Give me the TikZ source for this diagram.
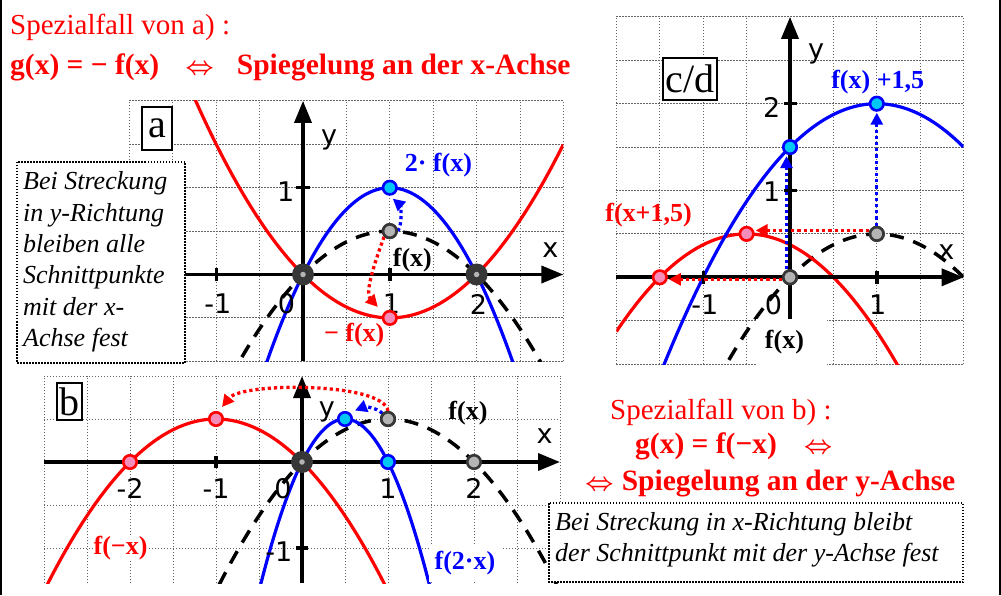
\documentclass[tikz,border=0pt]{standalone}
\usepackage{fontspec}
\setmainfont{Liberation Serif}
\newfontfamily\axfont{DejaVu Sans}
\usetikzlibrary{arrows.meta}
\definecolor{ptcyan}{RGB}{0,200,245}
\definecolor{ptpink}{RGB}{245,140,185}
\definecolor{ptgray}{RGB}{180,180,180}
\definecolor{ptdark}{RGB}{55,55,55}
\definecolor{grdc}{RGB}{100,100,100}
\tikzset{
 grd/.style={draw=grdc, line width=0.9pt, dash pattern=on 1.2pt off 1.8pt},
 axarr/.style={line width=3.6pt, -{Triangle[length=22pt,width=17pt]}},
 tck/.style={line width=3.4pt},
 crv/.style={line width=3.2pt},
 dsh/.style={line width=3.5pt, dash pattern=on 14pt off 10pt},
 dotarr/.style={line width=3.3pt, dash pattern=on 3.2pt off 3pt, -{Triangle[length=12pt,width=12pt]}},
 gpt/.style={circle, draw=ptdark, fill=ptgray, line width=2.6pt, minimum size=13.5pt, inner sep=0pt},
 cpt/.style={circle, draw=blue, fill=ptcyan, line width=2.6pt, minimum size=13.5pt, inner sep=0pt},
 rpt/.style={circle, draw=red, fill=ptpink, line width=2.6pt, minimum size=13.5pt, inner sep=0pt},
 dpt/.style={circle, fill=ptdark, minimum size=22pt, inner sep=0pt},
 cdot/.style={circle, fill=ptgray, minimum size=5.5pt, inner sep=0pt},
 axl/.style={font=\axfont\fontsize{27}{32}\selectfont, inner sep=0pt},
 lbl/.style={font=\bfseries\fontsize{26}{31}\selectfont, inner sep=1pt},
 hd/.style={font=\fontsize{29}{34}\selectfont, text=red, inner sep=0pt},
 hdb/.style={font=\bfseries\boldmath\fontsize{29.5}{34}\selectfont, text=red, inner sep=0pt},
 itx/.style={font=\itshape\fontsize{26}{31}\selectfont, inner sep=0pt},
 tbox/.style={draw, fill=white, line width=1.5pt, dash pattern=on 1.5pt off 1.5pt},
 pbox/.style={draw, fill=white, line width=1.1pt, inner sep=0pt, font=\fontsize{40}{40}\selectfont},
}
\begin{document}
\begin{tikzpicture}[x=1pt,y=1pt]
\useasboundingbox (0,0) rectangle (1001,595);
\fill[white] (0,0) rectangle (1001,595);

%%%%%%%%%%%%%%%% panel a
\begin{scope}[shift={(303pt,320.5pt)}, x=86.8pt, y=86.8pt]
 \draw[grd] (-2,-1) grid[step=0.5] (3,2);
 \begin{scope}
  \clip (-2,-1) rectangle (3,2);
  \draw[dsh, domain=-2:3, samples=120] plot (\x,{\x-\x*\x/2});
  \draw[crv, red, domain=-2:3, samples=120] plot (\x,{\x*\x/2-\x});
  \draw[crv, blue, domain=-2:3, samples=120] plot (\x,{2*\x-\x*\x});
 \end{scope}
 \draw[axarr] (-2,0) -- (3,0);
 \draw[axarr] (0,-1) -- (0,2);
 \foreach \t in {-1,1,2} \draw[tck] (\t,-0.075) -- (\t,0.075);
 \draw[tck] (-0.075,1) -- (0.075,1);
 \node[axl] (am1) at (-0.98,-0.34) {-1};
 \node[axl] (a0) at (-0.19,-0.34) {0};
 \node[axl] (a1) at (1.02,-0.34) {1};
 \node[axl] (a2) at (2.02,-0.34) {2};
 \node[axl] (ay1) at (-0.20,0.95) {1};
 \node[axl] (ax) at (2.85,0.28) {x};
 \node[axl] (ay) at (0.30,1.55) {y};
 \node[gpt] (ga) at (1,0.5) {};
 \node[cpt] (ca) at (1,1) {};
 \node[rpt] (ra) at (1,-0.5) {};
 \draw[dotarr, blue] (ga.east) .. controls (1.15,0.58) and (1.12,0.8) .. ([shift={(3pt,-11pt)}]ca.center);
 \draw[dotarr, red] (ga.south west) .. controls (0.83,0.15) and (0.71,-0.21) .. ([shift={(-12pt,11pt)}]ra.center);
 \node[gpt] at (ga) {};
 \node[dpt] (da0) at (0,0) {};
 \node[cdot] (da0c) at (0,0) {};
 \node[dpt] (da2) at (2,0) {};
 \node[cdot] (da2c) at (2,0) {};
 \node[lbl, text=blue] (la1) at (1.56,1.26) {2· f(x)};
 \node[lbl] (la2) at (1.26,0.17) {f(x)};
 \node[lbl, text=red] (la3) at (0.59,-0.70) {− f(x)};
\end{scope}
\node[pbox, minimum width=30pt, minimum height=43pt] (boxa) at (157,466.5) {a};
\draw[tbox] (17,433) rectangle (185,232);
\foreach \t [count=\i] in {Bei Streckung, in y-Richtung, bleiben alle, Schnittpunkte, mit der x-, Achse fest}
  \node[itx, anchor=base west] (ta\i) at (23,{405-(\i-1)*31.3}) {\t};

%%%%%%%%%%%%%%%% panel b
\begin{scope}[shift={(302pt,133pt)}, x=86pt, y=86pt]
 \draw[grd] (-3,-1.41) grid[step=0.5] (3,1);
 \begin{scope}
  \clip (-3,-1.41) rectangle (3,1);
  \draw[dsh, domain=-3:3, samples=120] plot (\x,{\x-\x*\x/2});
  \draw[crv, red, domain=-3:3, samples=120] plot (\x,{-\x*\x/2-\x});
  \draw[crv, blue, domain=-1:2, samples=120] plot (\x,{2*\x-2*\x*\x});
 \end{scope}
 \draw[axarr] (-3,0) -- (3,0);
 \draw[axarr] (0,-1.41) -- (0,1);
 \foreach \t in {-2,-1,1,2} \draw[tck] (\t,-0.075) -- (\t,0.075);
 \draw[tck] (-0.075,-1) -- (0.075,-1);
 \node[axl] (bm2) at (-2.0,-0.31) {-2};
 \node[axl] (bm1) at (-1.0,-0.31) {-1};
 \node[axl] (b0) at (-0.22,-0.31) {0};
 \node[axl] (b1) at (1.0,-0.31) {1};
 \node[axl] (b2) at (2.0,-0.31) {2};
 \node[axl] (bym1) at (-0.27,-1.04) {-1};
 \node[axl] (bx) at (2.82,0.30) {x};
 \node[axl] (by) at (0.29,0.58) {y};
 \node[gpt] (gb1) at (1,0.5) {};
 \node[gpt] (gb2) at (2,0) {};
 \node[rpt] (rb0) at (-2,0) {};
 \node[rpt] (rb1) at (-1,0.5) {};
 \node[cpt] (cb1) at (0.5,0.5) {};
 \node[cpt] (cb0) at (1,0) {};
 \draw[dotarr, red] (gb1.north) .. controls (0.95,0.93) and (-0.7,0.93) .. ([shift={(6pt,12pt)}]rb1.center);
 \draw[dotarr, blue] (gb1.north west) .. controls (0.86,0.64) and (0.72,0.64) .. ([shift={(10pt,8.5pt)}]cb1.center);
 \node[gpt] at (gb1) {};
 \node[dpt] (db0) at (0,0) {};
 \node[cdot] (db0c) at (0,0) {};
 \node[lbl] (lb1) at (1.93,0.566) {f(x)};
 \node[lbl, text=red, fill=white] (lb2) at (-2.11,-1.0) {f(−x)};
 \node[lbl, text=blue, fill=white, minimum width=72pt, minimum height=38pt] (lb3) at (1.895,-1.17) {f(2·x)};
\end{scope}
\node[pbox, minimum width=25pt, minimum height=37pt] (boxb) at (69.5,193.5) {b};
\draw[tbox] (549,92) rectangle (963,13);
\node[itx, anchor=base west] (tb1) at (555,65) {Bei Streckung in x-Richtung bleibt};
\node[itx, anchor=base west] (tb2) at (555,33.3) {der Schnittpunkt mit der y-Achse fest};

%%%%%%%%%%%%%%%% panel c/d
\begin{scope}[shift={(790pt,317.7pt)}, x=86.8pt, y=86.8pt]
 \draw[grd] (-2,-1) grid[step=0.5] (2,3);
 \begin{scope}
  \clip (-2,-1) rectangle (2,3);
  \draw[dsh, domain=-2:2, samples=120] plot (\x,{\x-\x*\x/2});
  \draw[crv, red, domain=-2:2, samples=120] plot (\x,{(\x+1.5)-(\x+1.5)*(\x+1.5)/2});
  \draw[crv, blue, domain=-2:2, samples=120] plot (\x,{\x-\x*\x/2+1.5});
 \end{scope}
 \draw[axarr] (-2,0) -- (2,0);
 \draw[axarr] (0,-1) -- (0,3);
 \foreach \t in {-1,1} \draw[tck] (\t,-0.075) -- (\t,0.075);
 \foreach \t in {1,2} \draw[tck] (-0.075,\t) -- (0.075,\t);
 \node[axl] (cm1) at (-0.98,-0.32) {-1};
 \node[axl] (c0) at (-0.19,-0.32) {0};
 \node[axl] (c1) at (1.01,-0.32) {1};
 \node[axl] (cy1) at (-0.21,0.985) {1};
 \node[axl] (cy2) at (-0.21,1.955) {2};
 \node[axl] (cx) at (1.80,0.295) {x};
 \node[axl] (cy) at (0.30,2.57) {y};
 \node[gpt] (gc0) at (0,0) {};
 \node[gpt] (gc1) at (1,0.5) {};
 \node[cpt] (cc0) at (0,1.5) {};
 \node[cpt] (cc1) at (1,2) {};
 \node[rpt] (rc1) at (-0.5,0.5) {};
 \node[rpt] (rc0) at (-1.5,0) {};
 \draw[dotarr, red] ([yshift=3.5pt]gc1.west) -- ([yshift=3.5pt,xshift=1pt]rc1.east);
 \draw[dotarr, red] ([yshift=-2pt]gc0.west) -- ([yshift=-2pt,xshift=1pt]rc0.east);
 \draw[dotarr, blue] ([xshift=-3.5pt]gc0.north) -- ([xshift=-3.5pt,yshift=-1pt]cc0.south);
 \draw[dotarr, blue] (gc1.north) -- ([yshift=-1pt]cc1.south);
 \node[gpt] at (gc0) {};
 \node[gpt] at (gc1) {};
 \node[lbl, text=blue] (lc1) at (1.01,2.25) {f(x) +1,5};
 \node[lbl, text=red] (lc2) at (-1.63,0.72) {f(x+1,5)};
 \node[lbl, fill=white, inner xsep=9pt, text width=53pt, align=left, minimum height=46pt] (lc3) at (0.017,-0.743) {f(x)};
\end{scope}
\node[pbox, minimum width=54pt, minimum height=42pt] (boxc) at (690,516) {c/d};

%%%%%%%%%%%%%%%% headings
\node[hd, anchor=base west] (h1) at (10,560) {Spezialfall von a) :};
\node[hdb, anchor=base west] (h2) at (10,520) {g(x) = − f(x)\hspace{26pt}$\Leftrightarrow$\hspace{23pt}Spiegelung an der x-Achse};
\node[hd, anchor=base west] (h3) at (610,175.7) {Spezialfall von b) :};
\node[hdb, anchor=base west] (h4) at (635,142) {g(x) = f(−x)\hspace{27pt}$\Leftrightarrow$};
\node[hdb, anchor=base west] (h5) at (585,105) {$\Leftrightarrow$\hspace{8pt}Spiegelung an der y-Achse};

%%%%%%%%%%%%%%%% frame sides
\draw[line width=1.7pt] (0.85,0) -- (0.85,595);
\draw[line width=2pt] (1000,0) -- (1000,595);
\end{tikzpicture}
\end{document}
